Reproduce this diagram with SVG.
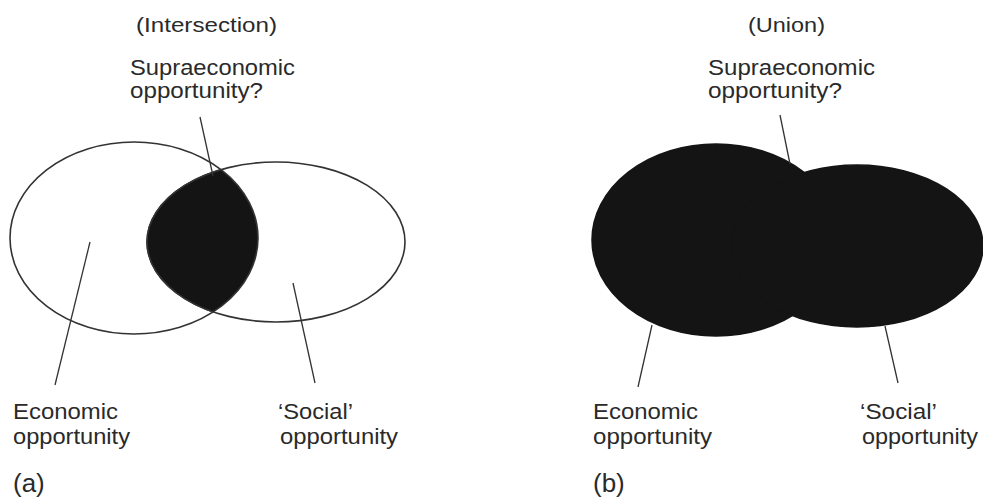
<svg xmlns="http://www.w3.org/2000/svg" width="983" height="502" viewBox="0 0 983 502">
<style>
  .t { font-family: "Liberation Sans", Arial, sans-serif; font-size: 22px; fill: #2a2a2a; }
  .h { font-size: 20px; }
  .p { font-size: 26px; }
  .outline { fill: none; stroke: #333; stroke-width: 1.6; }
  .fill { fill: #141414; stroke: #141414; stroke-width: 1.5; }
  .lead { stroke: #333; stroke-width: 1.3; fill: none; }
</style>
<defs>
  <clipPath id="clipLeftA">
    <ellipse cx="134" cy="238" rx="124" ry="96"/>
  </clipPath>
</defs>
<rect width="983" height="502" fill="#ffffff"/>

<!-- Panel (a): Intersection -->
<g id="intersection-region">
  <ellipse cx="276" cy="242" rx="129" ry="80" class="fill" clip-path="url(#clipLeftA)"/>
</g>
<g id="economic-a">
  <ellipse cx="134" cy="238" rx="124" ry="96" class="outline"/>
</g>
<g id="social-a">
  <ellipse cx="276" cy="242" rx="129" ry="80" class="outline"/>
</g>

<!-- Panel (b): Union -->
<g id="union-region">
  <ellipse cx="716" cy="240" rx="124" ry="96" class="fill"/>
  <ellipse cx="857" cy="246" rx="126" ry="81" class="fill"/>
</g>

<g id="connectors">
  <line class="lead" x1="200" y1="117" x2="213" y2="176"/>
  <line class="lead" x1="90" y1="242" x2="55" y2="385"/>
  <line class="lead" x1="293" y1="283" x2="315" y2="383"/>
  <line class="lead" x1="780" y1="115" x2="790" y2="164"/>
  <line class="lead" x1="652" y1="325" x2="638" y2="387"/>
  <line class="lead" x1="885" y1="326" x2="898" y2="383"/>
</g>

<g id="labels-a">
  <text class="t h" x="136" y="32" textLength="141" lengthAdjust="spacingAndGlyphs">(Intersection)</text>
  <text class="t" x="130" y="75" textLength="165" lengthAdjust="spacingAndGlyphs">Supraeconomic</text>
  <text class="t" x="130" y="98" textLength="133" lengthAdjust="spacingAndGlyphs">opportunity?</text>
  <text class="t" x="13" y="419" textLength="105" lengthAdjust="spacingAndGlyphs">Economic</text>
  <text class="t" x="13" y="444" textLength="117" lengthAdjust="spacingAndGlyphs">opportunity</text>
  <text class="t" x="278" y="419" textLength="75" lengthAdjust="spacingAndGlyphs">‘Social’</text>
  <text class="t" x="280" y="444" textLength="118" lengthAdjust="spacingAndGlyphs">opportunity</text>
  <text class="t p" x="13" y="492">(a)</text>
</g>

<g id="labels-b">
  <text class="t h" x="748" y="32" textLength="77" lengthAdjust="spacingAndGlyphs">(Union)</text>
  <text class="t" x="708" y="75" textLength="167" lengthAdjust="spacingAndGlyphs">Supraeconomic</text>
  <text class="t" x="708" y="98" textLength="134" lengthAdjust="spacingAndGlyphs">opportunity?</text>
  <text class="t" x="593" y="419" textLength="105" lengthAdjust="spacingAndGlyphs">Economic</text>
  <text class="t" x="593" y="444" textLength="119" lengthAdjust="spacingAndGlyphs">opportunity</text>
  <text class="t" x="860" y="419" textLength="77" lengthAdjust="spacingAndGlyphs">‘Social’</text>
  <text class="t" x="862" y="444" textLength="116" lengthAdjust="spacingAndGlyphs">opportunity</text>
  <text class="t p" x="593" y="492">(b)</text>
</g>
</svg>
